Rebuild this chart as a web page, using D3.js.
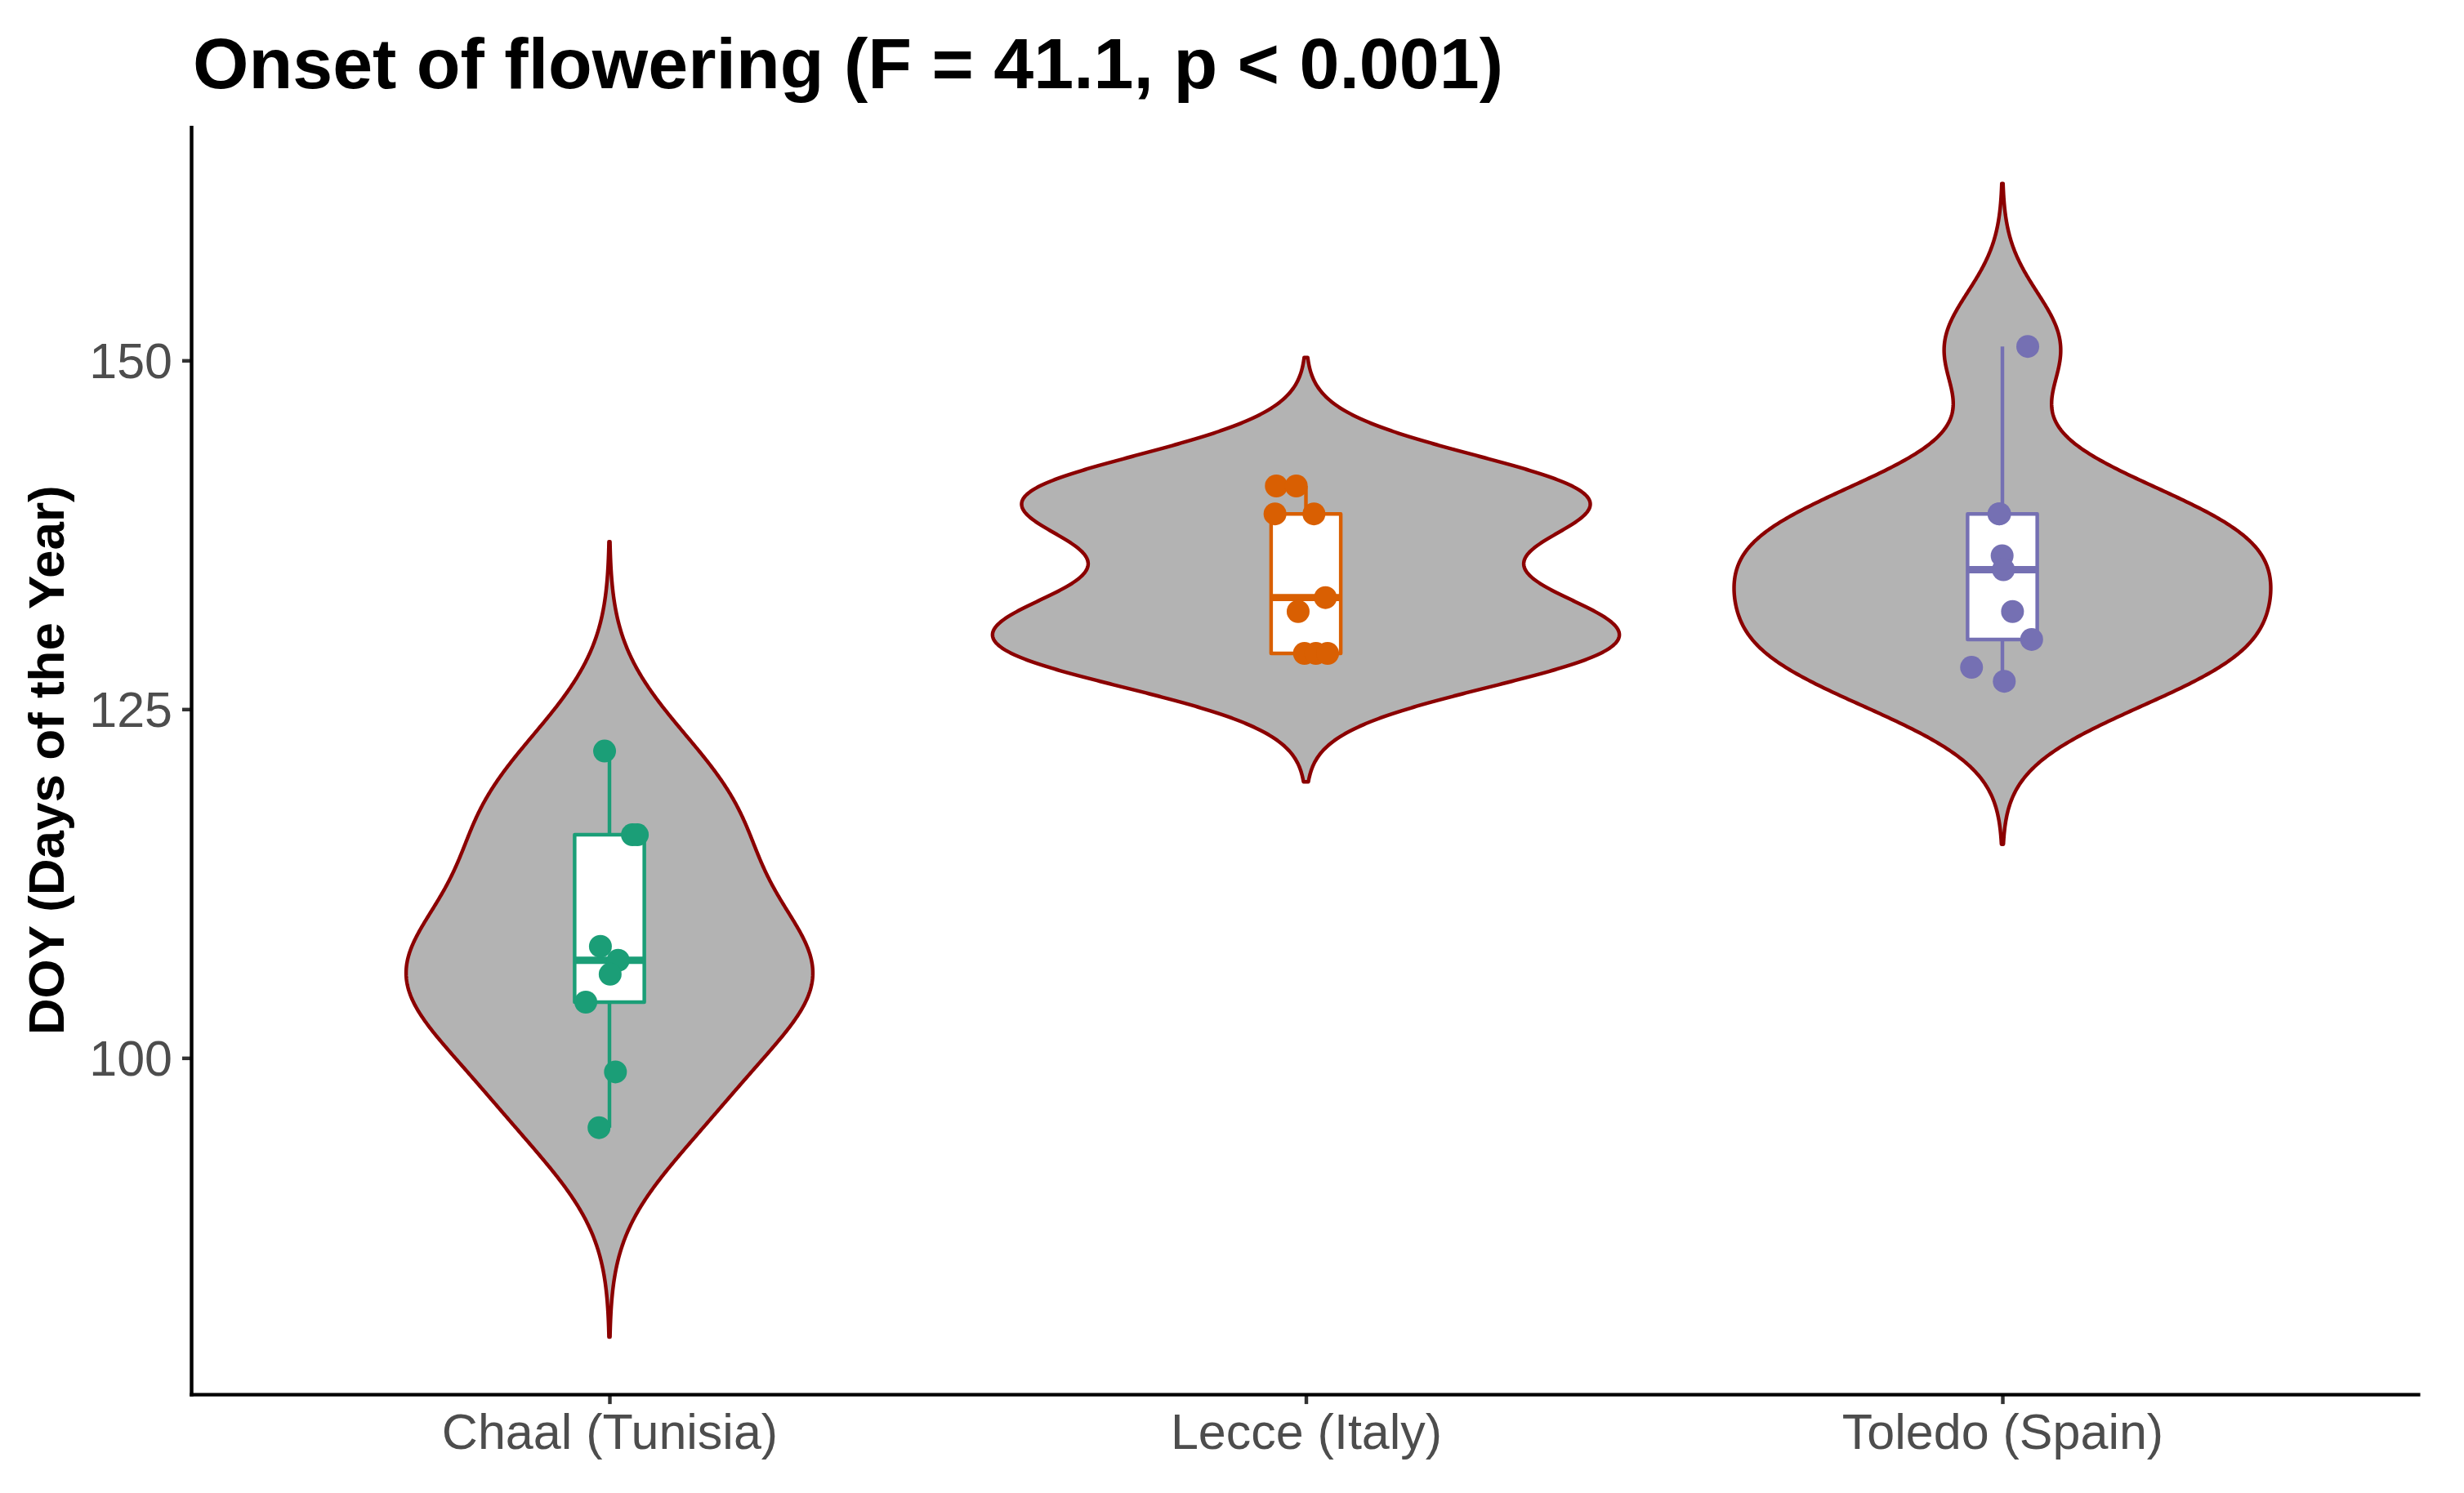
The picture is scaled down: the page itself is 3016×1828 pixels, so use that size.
<!DOCTYPE html>
<html>
<head>
<meta charset="utf-8">
<script src="https://cdn.jsdelivr.net/npm/d3@7"></script>
<style>
  body { margin: 0; background: #fff; }
  text { font-family: "Liberation Sans", Arial, Helvetica, sans-serif; }
</style>
</head>
<body>
<svg id="chart" width="3016" height="1828"></svg>
<script>
// data
var sites = ["Chaal (Tunisia)", "Lecce (Italy)", "Toledo (Spain)"];
var siteColors = ["#1B9E77", "#D95F02", "#7570B3"];

var chaalDoy    = [122, 116, 116, 108, 107, 106, 104, 99, 95];
var chaalJitter = [-0.007, 0.033, 0.040, -0.013, 0.0125, 0.001, -0.034, 0.0086, -0.015];

var lecceDoy    = [141, 141, 139, 139, 133, 132, 129, 129, 129];
var lecceJitter = [-0.0425, -0.0139, -0.0444, 0.0115, 0.028, -0.0112, -0.0021, 0.0143, 0.0311];

var toledoDoy    = [151, 139, 139, 136, 135, 132, 130, 128, 127];
var toledoJitter = [0.0364, -0.005, -0.004, -0.0004, 0.0015, 0.0145, 0.042, -0.0443, 0.0027];

var yTicks = [100, 125, 150];
var titleText = "Onset of flowering (F = 41.1, p < 0.001)";
var yTitle = "DOY (Days of the Year)";

var groups = [
	{ name: sites[0], color: siteColors[0], values: chaalDoy, jitter: chaalJitter },
	{ name: sites[1], color: siteColors[1], values: lecceDoy, jitter: lecceJitter },
	{ name: sites[2], color: siteColors[2], values: toledoDoy, jitter: toledoJitter }
];

// panel box
var panel = { left: 234.5, right: 2962.5, top: 154, bottom: 1707.6 };

// kde like R density(): gaussian, bw.nrd0, cut = 3, n = 512
function nrd0(v) {
	var s = d3.deviation(v);
	var sorted = v.slice().sort(d3.ascending);
	var iqr = d3.quantile(sorted, 0.75) - d3.quantile(sorted, 0.25);
	var lo = Math.min(s, iqr / 1.34);
	return 0.9 * lo * Math.pow(v.length, -0.2);
}

groups.forEach(function (g) {
	var bw = nrd0(g.values);
	var from = d3.min(g.values) - 3 * bw,
		to = d3.max(g.values) + 3 * bw;
	var n = g.values.length;
	g.density = d3.range(512).map(function (i) {
		var y = from + (to - from) * i / 511;
		var s = d3.sum(g.values, function (x) {
			var u = (y - x) / bw;
			return Math.exp(-0.5 * u * u);
		});
		return { y: y, d: s / (n * bw * Math.sqrt(2 * Math.PI)) };
	});
	var sorted = g.values.slice().sort(d3.ascending);
	var q1 = d3.quantile(sorted, 0.25), med = d3.quantile(sorted, 0.5), q3 = d3.quantile(sorted, 0.75);
	var iqr = q3 - q1;
	g.box = {
		q1: q1, med: med, q3: q3,
		lo: d3.min(sorted.filter(function (v) { return v >= q1 - 1.5 * iqr; })),
		hi: d3.max(sorted.filter(function (v) { return v <= q3 + 1.5 * iqr; }))
	};
});

var maxDens = d3.max(groups, function (g) { return d3.max(g.density, function (p) { return p.d; }); });
var yMin = d3.min(groups, function (g) { return g.density[0].y; });
var yMax = d3.max(groups, function (g) { return g.density[511].y; });
var pad = (yMax - yMin) * 0.05;

var x = d3.scaleLinear().domain([0.4, 3.6]).range([panel.left, panel.right]);
var y = d3.scaleLinear().domain([yMin - pad, yMax + pad]).range([panel.bottom, panel.top]);

var svg = d3.select("#chart");

// violins
var area = d3.area()
	.y(function (p) { return y(p.y); });

groups.forEach(function (g, i) {
	var cx = i + 1;
	area.x0(function (p) { return x(cx - 0.45 * p.d / maxDens); })
		.x1(function (p) { return x(cx + 0.45 * p.d / maxDens); });
	svg.append("path")
		.attr("d", area(g.density))
		.attr("fill", "#B3B3B3")
		.attr("stroke", "#8B0000")
		.attr("stroke-width", 4.45)
		.attr("stroke-linejoin", "round");
});

// boxplots
groups.forEach(function (g, i) {
	var cx = i + 1, b = g.box;
	var gb = svg.append("g")
		.attr("stroke", g.color)
		.attr("stroke-width", 4.45);
	gb.append("line")
		.attr("x1", x(cx)).attr("x2", x(cx))
		.attr("y1", y(b.q3)).attr("y2", y(b.hi));
	gb.append("line")
		.attr("x1", x(cx)).attr("x2", x(cx))
		.attr("y1", y(b.q1)).attr("y2", y(b.lo));
	gb.append("rect")
		.attr("x", x(cx - 0.05))
		.attr("width", x(cx + 0.05) - x(cx - 0.05))
		.attr("y", y(b.q3))
		.attr("height", y(b.q1) - y(b.q3))
		.attr("fill", "#fff")
		.attr("stroke-linejoin", "round");
	gb.append("line")
		.attr("x1", x(cx - 0.05)).attr("x2", x(cx + 0.05))
		.attr("y1", y(b.med)).attr("y2", y(b.med))
		.attr("stroke-width", 8.9);
});

// jittered points
groups.forEach(function (g, i) {
	svg.append("g").selectAll("circle")
		.data(g.values)
		.enter().append("circle")
		.attr("cx", function (d, j) { return x(i + 1 + g.jitter[j]); })
		.attr("cy", function (d) { return y(d); })
		.attr("r", 14)
		.attr("fill", g.color);
});

// axes
var yAxis = svg.append("g")
	.attr("transform", "translate(" + panel.left + ",0)")
	.call(d3.axisLeft(y).tickValues(yTicks).tickSize(11.5).tickPadding(12));
var xAxis = svg.append("g")
	.attr("transform", "translate(0," + panel.bottom + ")")
	.call(d3.axisBottom(x).tickValues([1, 2, 3]).tickSize(11.5).tickPadding(12)
		.tickFormat(function (d) { return sites[d - 1]; }));

[yAxis, xAxis].forEach(function (ax) {
	ax.select(".domain").remove();
	ax.selectAll(".tick line").attr("stroke", "#333333").attr("stroke-width", 4.45);
	ax.selectAll(".tick text")
		.attr("fill", "#4D4D4D")
		.style("font-size", "61px")
		.style("font-family", "'Liberation Sans', Arial, sans-serif");
});
yAxis.selectAll(".tick text").attr("dy", "0.35em");
xAxis.selectAll(".tick text").attr("dy", "0.71em");

svg.append("line")
	.attr("x1", panel.left).attr("x2", panel.left)
	.attr("y1", panel.top).attr("y2", panel.bottom + 2.2)
	.attr("stroke", "#000").attr("stroke-width", 4.45);
svg.append("line")
	.attr("x1", panel.left - 2.2).attr("x2", panel.right)
	.attr("y1", panel.bottom).attr("y2", panel.bottom)
	.attr("stroke", "#000").attr("stroke-width", 4.45);

// titles
svg.append("text")
	.attr("x", 236)
	.attr("y", 108)
	.style("font-size", "88px")
	.style("font-weight", "bold")
	.attr("fill", "#000")
	.text(titleText);

svg.append("text")
	.attr("transform", "translate(78," + ((panel.top + panel.bottom) / 2) + ") rotate(-90)")
	.attr("text-anchor", "middle")
	.style("font-size", "62px")
	.style("font-weight", "bold")
	.attr("fill", "#000")
	.text(yTitle);
</script>
</body>
</html>
